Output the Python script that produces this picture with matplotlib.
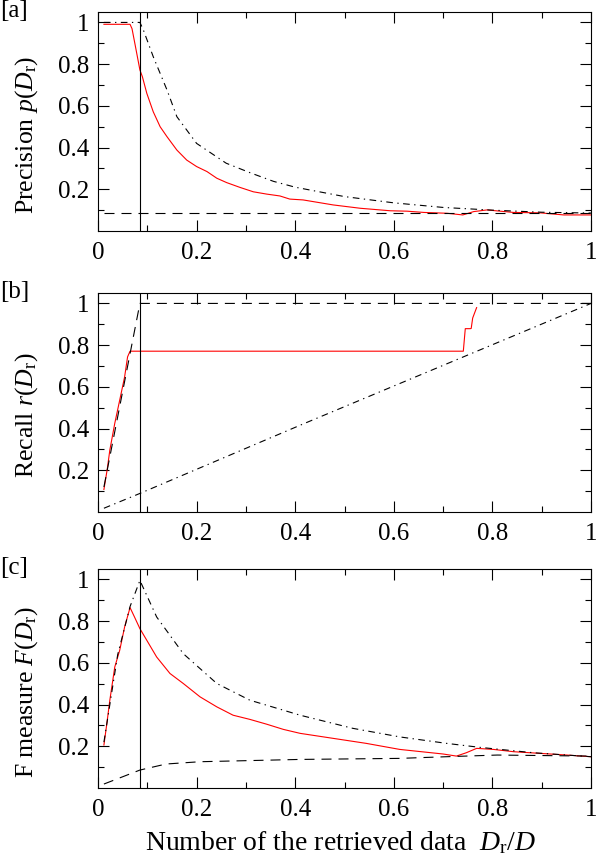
import matplotlib
matplotlib.use("Agg")
import matplotlib.pyplot as plt
from matplotlib.ticker import FixedLocator, FixedFormatter

plt.rcParams["font.family"] = "Liberation Serif"
plt.rcParams["mathtext.fontset"] = "custom"
plt.rcParams["mathtext.rm"] = "Liberation Serif"
plt.rcParams["mathtext.it"] = "Liberation Serif:italic"

# fraction of relevant data (vertical marker)
x_relevant = 0.085

# [a] precision
prec_x = [0.012, 0.065, 0.069, 0.076, 0.085, 0.09, 0.099, 0.112, 0.126, 0.14, 0.16, 0.18,
          0.2, 0.221, 0.241, 0.261, 0.288, 0.315, 0.342, 0.369, 0.389, 0.416, 0.477, 0.532,
          0.593, 0.627, 0.661, 0.708, 0.74, 0.762, 0.789, 0.843, 0.897, 0.945, 1.0]
prec_y = [0.991, 0.991, 0.97, 0.884, 0.772, 0.74, 0.66, 0.572, 0.50, 0.452, 0.388, 0.34,
          0.309, 0.285, 0.253, 0.232, 0.209, 0.188, 0.177, 0.168, 0.153, 0.149, 0.125, 0.109,
          0.097, 0.095, 0.089, 0.085, 0.077, 0.093, 0.101, 0.089, 0.087, 0.077, 0.077]
prec_ideal_x = [0.012, 0.085, 0.092, 0.112, 0.14, 0.16, 0.2, 0.26, 0.31, 0.356, 0.4, 0.5,
                0.6, 0.7, 0.8, 0.9, 1.0]
prec_ideal_y = [1.0, 1.0, 0.964, 0.836, 0.676, 0.548, 0.42, 0.325, 0.278, 0.238, 0.21, 0.165,
                0.135, 0.113, 0.1, 0.09, 0.086]
prec_rand_x = [0.012, 1.0]
prec_rand_y = [0.088, 0.088]

# [b] recall
rec_x = [0.012, 0.019, 0.024, 0.034, 0.044, 0.054, 0.06, 0.065, 0.741, 0.745, 0.755,
         0.757, 0.760, 0.768]
rec_y = [0.108, 0.209, 0.297, 0.425, 0.536, 0.648, 0.744, 0.771, 0.771, 0.879, 0.879,
         0.88, 0.93, 0.98]
rec_ideal_x = [0.012, 0.085, 1.0]
rec_ideal_y = [0.12, 1.0, 1.0]
rec_rand_x = [0.012, 0.085, 0.41, 1.0]
rec_rand_y = [0.018, 0.089, 0.416, 1.0]

# [c] F measure
f_x = [0.012, 0.018, 0.024, 0.034, 0.044, 0.054, 0.065, 0.074, 0.085, 0.099, 0.119, 0.146,
       0.173, 0.207, 0.241, 0.274, 0.308, 0.342, 0.376, 0.41, 0.477, 0.544, 0.612, 0.70,
       0.727, 0.747, 0.768, 0.802, 0.843, 0.897, 0.951, 1.0]
f_y = [0.206, 0.31, 0.421, 0.58, 0.66, 0.772, 0.865, 0.82, 0.764, 0.708, 0.628, 0.549,
       0.501, 0.437, 0.389, 0.349, 0.329, 0.306, 0.281, 0.262, 0.238, 0.214, 0.185, 0.163,
       0.153, 0.169, 0.19, 0.185, 0.174, 0.166, 0.158, 0.15]
f_ideal_x = [0.012, 0.04, 0.065, 0.085, 0.119, 0.173, 0.241, 0.308, 0.41, 0.517, 0.612,
             0.707, 0.774, 0.883, 1.0]
f_ideal_y = [0.22, 0.64, 0.87, 0.995, 0.82, 0.644, 0.501, 0.421, 0.349, 0.286, 0.245,
             0.214, 0.195, 0.169, 0.15]
f_rand_x = [0.012, 0.085, 0.138, 0.207, 0.41, 0.612, 0.707, 0.81, 1.0]
f_rand_y = [0.019, 0.086, 0.115, 0.126, 0.137, 0.142, 0.15, 0.158, 0.153]

x_ticks = [0, 0.2, 0.4, 0.6, 0.8, 1.0]
x_ticklabels = ["0", "0.2", "0.4", "0.6", "0.8", "1"]
y_ticks = [0.2, 0.4, 0.6, 0.8, 1.0]
y_ticklabels = ["0.2", "0.4", "0.6", "0.8", "1"]

DASHED = (9, 6.3)
DASHDOT = (6, 4, 1.2, 4)
LW = 0.8

fig = plt.figure(figsize=(5.96, 8.58), dpi=100)

left = 98 / 596
width = 493 / 596
height = 219 / 858
bottoms = [1 - 231 / 858, 1 - 512 / 858, 1 - 788 / 858]

panels = [
    ("[a]", r"Precision $p(D_{\mathrm{r}})$",
     [(prec_x, prec_y, "red", None), (prec_ideal_x, prec_ideal_y, "black", DASHDOT),
      (prec_rand_x, prec_rand_y, "black", DASHED)]),
    ("[b]", r"Recall $r(D_{\mathrm{r}})$",
     [(rec_x, rec_y, "red", None), (rec_ideal_x, rec_ideal_y, "black", DASHED),
      (rec_rand_x, rec_rand_y, "black", DASHDOT)]),
    ("[c]", r"F measure $F(D_{\mathrm{r}})$",
     [(f_x, f_y, "red", None), (f_ideal_x, f_ideal_y, "black", DASHDOT),
      (f_rand_x, f_rand_y, "black", DASHED)]),
]

for (tag, ylabel, series), bottom in zip(panels, bottoms):
    ax = fig.add_axes([left, bottom, width, height])
    for xs, ys, color, dashes in series:
        if dashes is None:
            ax.plot(xs, ys, color=color, lw=LW)
        else:
            ax.plot(xs, ys, color=color, lw=LW, dashes=dashes)
    ax.axvline(x_relevant, color="black", lw=LW)

    ax.set_xlim(0, 1)
    ax.set_ylim(0, 1.05)
    ax.xaxis.set_major_locator(FixedLocator(x_ticks))
    ax.xaxis.set_major_formatter(FixedFormatter(x_ticklabels))
    ax.xaxis.set_minor_locator(FixedLocator([0.1, 0.3, 0.5, 0.7, 0.9]))
    ax.yaxis.set_major_locator(FixedLocator(y_ticks))
    ax.yaxis.set_major_formatter(FixedFormatter(y_ticklabels))
    ax.yaxis.set_minor_locator(FixedLocator([0.1, 0.3, 0.5, 0.7, 0.9]))
    ax.tick_params(which="both", direction="in", top=True, right=True, width=LW,
                   labelsize=18)
    ax.tick_params(which="major", length=8)
    ax.tick_params(which="minor", length=4.5)
    ax.tick_params(axis="x", pad=8)
    ax.tick_params(axis="y", pad=6)
    for s in ax.spines.values():
        s.set_linewidth(LW)

    ax.set_ylabel(ylabel, fontsize=18.5, va="center")
    ax.yaxis.set_label_coords(-0.145, 0.44)

    top_px = (1 - bottom - height) * 858
    fig.text(0.0, 1 - (top_px - 12) / 858, tag, fontsize=18, ha="left", va="top")

fig.text(340 / 596, 0.002, r"Number of the retrieved data  $D_{\mathrm{r}}/D$",
         fontsize=20, ha="center", va="bottom")

fig.savefig("out.png", dpi=100)
